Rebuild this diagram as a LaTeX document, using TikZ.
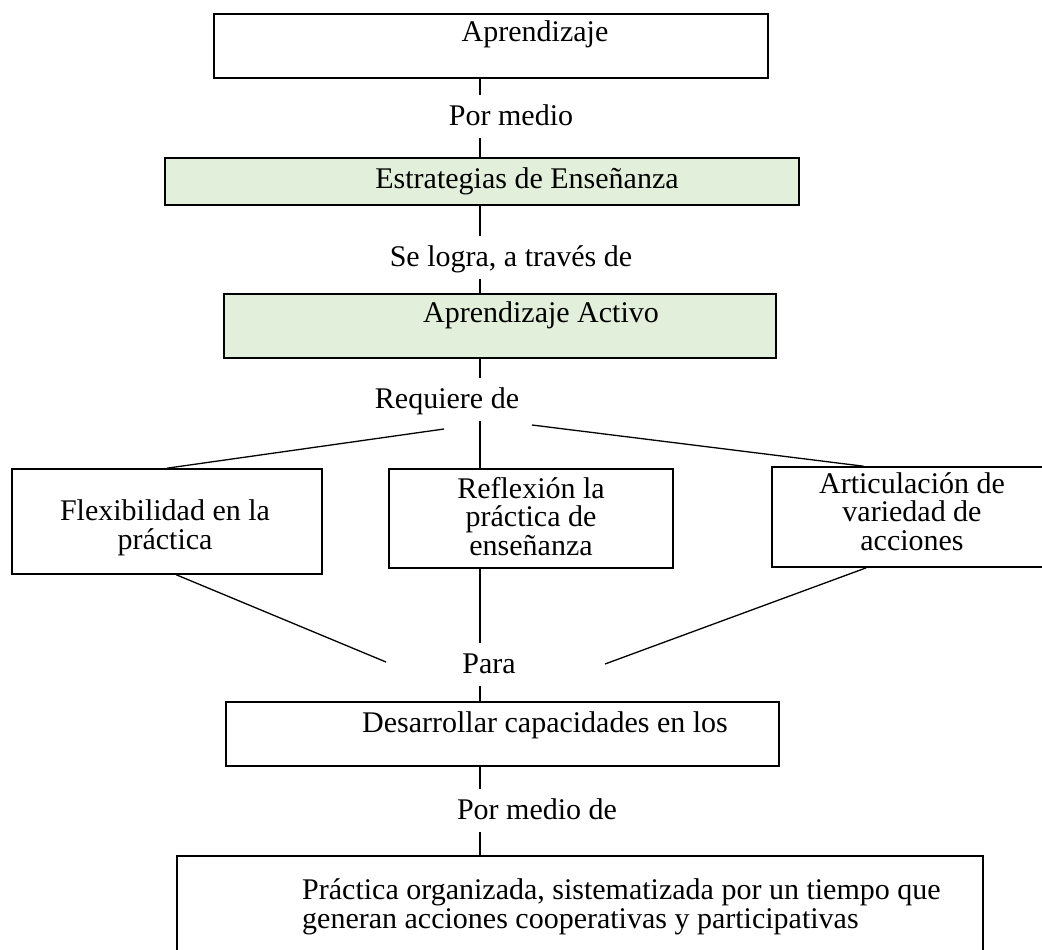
\documentclass[tikz,border=0pt]{standalone}
\usepackage{fontspec}
\setmainfont{Liberation Serif}
\usetikzlibrary{calc}
\definecolor{verdeclaro}{HTML}{E2EFDA}
\tikzset{
  caja/.style={draw, line width=1.6pt, inner sep=0pt},
  texto/.style={anchor=base, inner sep=0pt, align=center, font=\fontsize{30}{28.5}\selectfont},
  enlace/.style={anchor=base, font=\fontsize{30}{28.5}\selectfont, text height=21pt, text depth=4pt, inner xsep=2pt, inner ysep=9pt},
  linea/.style={line width=1.3pt}
}
\begin{document}
\begin{tikzpicture}[x=1pt,y=-1pt]
            \useasboundingbox (0,0) rectangle (1042,950);
            \coordinate (eje) at (480,0);
            \node[caja, minimum width=554, minimum height=64] (apr) at (491,46) {};
            \node[texto] (aprT) at (535,42) {Aprendizaje};
            \node[enlace] (pm) at (511,125) {Por medio};
            \node[caja, fill=verdeclaro, minimum width=634, minimum height=47] (estr) at (482,181.5) {};
            \node[texto] (estrT) at (527,188) {Estrategias de Enseñanza};
            \node[enlace] (sl) at (511,266) {Se logra, a través de};
            \node[caja, fill=verdeclaro, minimum width=552, minimum height=64] (act) at (500,326) {};
            \node[texto] (actT) at (541,322) {Aprendizaje Activo};
            \node[enlace] (req) at (447,408) {Requiere de};
            \node[caja, minimum width=310, minimum height=105] (flex) at (167,521.5) {};
            \node[texto] (flexT) at (165,549) {Flexibilidad en la\\práctica};
            \node[caja, minimum width=284, minimum height=99] (refl) at (531,518.5) {};
            \node[texto] (reflT) at (531,555) {Reflexión la\\práctica de\\enseñanza};
            \node[caja, minimum width=278, minimum height=100] (artic) at (911,517) {};
            \node[texto] (articT) at (912,550) {Articulación de\\variedad de\\acciones};
            \node[enlace] (para) at (489,673) {Para};
            \node[caja, minimum width=553, minimum height=64] (desa) at (502.5,734) {};
            \node[texto] (desaT) at (545,732) {Desarrollar capacidades en los};
            \node[enlace] (pmd) at (537,819) {Por medio de};
            \node[caja, minimum width=806, minimum height=104] (prac) at (580,908) {};
            \node[texto, anchor=base west, align=left] (pracT) at (302,928) {Práctica organizada, sistematizada por un tiempo que\\generan acciones cooperativas y participativas};
            \coordinate (reqL) at (444,429);
            \coordinate (reqR) at (532,425);
            \coordinate (paraL) at (386,662);
            \coordinate (paraR) at (605,664);
            \draw[linea] (apr.south -| eje) -- (pm.north -| eje);
            \draw[linea] (pm.south -| eje) -- (estr.north -| eje);
            \draw[linea] (estr.south -| eje) -- (sl.north -| eje);
            \draw[linea] (sl.south -| eje) -- (act.north -| eje);
            \draw[linea] (act.south -| eje) -- (req.north -| eje);
            \draw[linea] (reqL) -- (flex.north);
            \draw[linea] (req.south -| eje) -- (refl.north -| eje);
            \draw[linea] (reqR) -- ($(artic.north west)!0.33!(artic.north east)$);
            \draw[linea] ($(flex.south west)!0.53!(flex.south east)$) -- (paraL);
            \draw[linea] (refl.south -| eje) -- (para.north -| eje);
            \draw[linea] ($(artic.south west)!0.34!(artic.south east)$) -- (paraR);
            \draw[linea] (para.south -| eje) -- (desa.north -| eje);
            \draw[linea] (desa.south -| eje) -- (pmd.north -| eje);
            \draw[linea] (pmd.south -| eje) -- (prac.north -| eje);
\end{tikzpicture}
\end{document}
